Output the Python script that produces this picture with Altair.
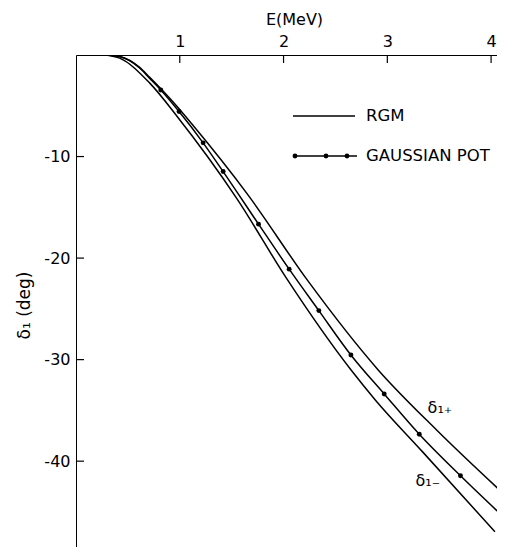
import altair as alt
import pandas as pd

# ---- data ----
E_ticks = [1, 2, 3, 4]
D_ticks = [-10, -20, -30, -40]

# Gaussian potential curve (line) and its marker points
E_gauss_start = [0.29, 0.42, 0.61, 0.71]
D_gauss_start = [0.0, -0.15, -1.25, -2.3]
E_dots = [0.817, 0.993, 1.225, 1.418, 1.759, 2.054, 2.340, 2.649, 2.970, 3.308, 3.705, 4.100]
D_dots = [-3.45, -5.57, -8.65, -11.48, -16.66, -21.09, -25.17, -29.54, -33.38, -37.35, -41.44, -45.30]

# RGM delta_1+ (upper curve)
E_plus = [0.29, 0.42, 0.61, 0.71, 0.968, 1.113, 1.659, 2.228, 2.912, 3.475, 4.13]
D_plus = [0.0, -0.15, -1.2, -2.2, -5.0, -6.75, -13.8, -22.15, -31.01, -36.93, -43.3]

# RGM delta_1- (lower curve)
E_minus = [0.29, 0.421, 0.711, 0.971, 1.274, 1.547, 2.029, 2.649, 2.884, 3.338, 4.037]
D_minus = [0.0, -0.31, -2.77, -6.0, -10.1, -14.1, -22.0, -31.0, -33.97, -39.06, -46.95]

labels_txt = ["δ₁₊", "δ₁₋"]
labels_E = [3.507, 3.391]
labels_D = [-34.76, -41.95]

W, H = 429, 500
FONT = "DejaVu Sans"

curves = pd.DataFrame(
    [{"E": e, "d": d, "s": "plus", "o": i} for i, (e, d) in enumerate(zip(E_plus, D_plus))]
    + [{"E": e, "d": d, "s": "minus", "o": i} for i, (e, d) in enumerate(zip(E_minus, D_minus))]
    + [{"E": e, "d": d, "s": "gauss", "o": i}
       for i, (e, d) in enumerate(zip(E_gauss_start + E_dots, D_gauss_start + D_dots))]
)
dots = pd.DataFrame({"E": E_dots, "d": D_dots})
lab = pd.DataFrame({"E": labels_E, "d": labels_D, "t": labels_txt})
etk = pd.DataFrame({"E": E_ticks})
dtk = pd.DataFrame({"d": D_ticks})

xs = alt.Scale(domain=[0, 4.134], nice=False, zero=False)
ys = alt.Scale(domain=[-49.24, 0], nice=False, zero=False)

X = alt.X("E:Q", scale=xs, axis=alt.Axis(
    orient="top", values=E_ticks, ticks=False, grid=False, title="E(MeV)",
    labelFontSize=16, labelPadding=6, titleFontSize=16, titleFontWeight="normal",
    titlePadding=6, titleX=218, labelFont=FONT, titleFont=FONT, domainColor="black",
    labelColor="black", titleColor="black", format="d"))
Y = alt.Y("d:Q", scale=ys, axis=alt.Axis(
    orient="left", values=D_ticks, ticks=False, grid=False, title="δ₁ (deg)",
    labelFontSize=16, labelPadding=6, titleFontSize=17, titleFontWeight="normal",
    titlePadding=10, labelFont=FONT, titleFont=FONT, domainColor="black",
    labelColor="black", titleColor="black",
    labelExpr="'-' + format(-datum.value, 'd')"))

lines = alt.Chart(curves).mark_line(
    color="black", strokeWidth=1.5, interpolate="monotone", clip=True
).encode(x=X, y=Y, detail="s:N", order="o:Q")

pts = alt.Chart(dots).mark_circle(color="black", size=24, opacity=1).encode(x=X, y=Y)

txt = alt.Chart(lab).mark_text(font=FONT, fontSize=16, color="black").encode(
    x=X, y=Y, text="t:N")

tick_l = alt.Chart(dtk).mark_rule(color="black", strokeWidth=1.2).encode(
    y=Y, x=alt.value(0), x2=alt.value(8))
tick_r = alt.Chart(dtk).mark_rule(color="black", strokeWidth=1.2).encode(
    y=Y, x=alt.value(W - 7), x2=alt.value(W))
tick_t = alt.Chart(etk).mark_rule(color="black", strokeWidth=1.2).encode(
    x=X, y=alt.value(0), y2=alt.value(8))
tick_b = alt.Chart(etk).mark_rule(color="black", strokeWidth=1.2).encode(
    x=X, y=alt.value(H - 7), y2=alt.value(H))

# manual legend
one = pd.DataFrame({"k": [0]})
leg_rgm = alt.Chart(one).mark_rule(color="black", strokeWidth=1.5).encode(
    x=alt.value(217), x2=alt.value(279), y=alt.value(61))
leg_g = alt.Chart(one).mark_rule(color="black", strokeWidth=1.5).encode(
    x=alt.value(218), x2=alt.value(281), y=alt.value(101))
leg_dots = alt.Chart(pd.DataFrame({"px": [219, 250, 271]})).mark_circle(
    color="black", size=24, opacity=1).encode(
    x=alt.X("px:Q", scale=None), y=alt.value(101))
leg_t1 = alt.Chart(one).mark_text(font=FONT, fontSize=16.5, color="black", align="left",
                                  baseline="middle", text="RGM").encode(
    x=alt.value(290), y=alt.value(61))
leg_t2 = alt.Chart(one).mark_text(font=FONT, fontSize=16.5, color="black", align="left",
                                  baseline="middle", text="GAUSSIAN POT").encode(
    x=alt.value(290), y=alt.value(101))

chart = alt.layer(
    lines, pts, txt, tick_l, tick_r, tick_t, tick_b,
    leg_rgm, leg_g, leg_dots, leg_t1, leg_t2
).properties(
    width=W, height=H,
    autosize=alt.AutoSizeParams(type="none"),
    padding={"left": 68, "top": 47, "right": -8, "bottom": -8},
).configure_view(stroke=None).configure(background="white")

chart.save("out.html", embed_options={"renderer": "svg", "actions": False})
